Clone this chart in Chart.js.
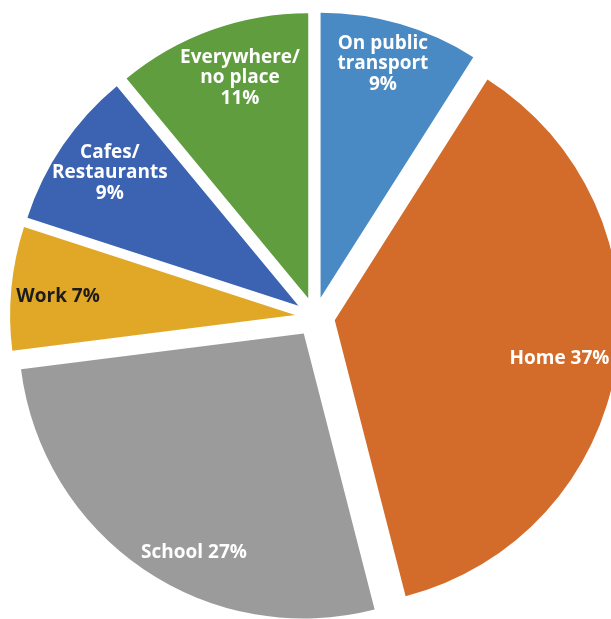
<!DOCTYPE html>
<html>
<head>
<meta charset="utf-8">
<script src="https://cdn.jsdelivr.net/npm/chart.js@4/dist/chart.umd.min.js"></script>
<style>
  html, body { margin: 0; padding: 0; background: #ffffff; }
  #wrap { width: 611px; height: 619px; }
</style>
</head>
<body>
<div id="wrap"><canvas id="pie" width="611" height="619"></canvas></div>
<script>
// Where people are (shares in %), clockwise from 12 o'clock
const categories = ['On public transport', 'Home', 'School', 'Work', 'Cafes/Restaurants', 'Everywhere/no place'];
const shares = [9, 37, 27, 7, 9, 11];
// How each category name is broken into lines inside its slice
const labelLines = [
  ['On public', 'transport'],
  ['Home'],
  ['School'],
  ['Work'],
  ['Cafes/', 'Restaurants'],
  ['Everywhere/', 'no place']
];

const sliceColors = ['#4a8ac4', '#d36c2a', '#9b9b9b', '#e0a826', '#3b63b1', '#5f9d3f'];
const labelColors = ['#ffffff', '#ffffff', '#ffffff', '#1c1c1c', '#ffffff', '#ffffff'];

const EXPLODE = 20;   // px each slice is pulled out from the centre
// Label placement per slice: distance as a fraction of the radius,
// and a small turn (degrees) away from the slice's mid angle
const labelPlacement = [
  { r: 0.85, turn: -1.3 },
  { r: 0.80, turn: 0.8 },
  { r: 0.86, turn: -7.6 },
  { r: 0.834, turn: -1.0 },
  { r: 0.81, turn: 1.0 },
  { r: 0.81, turn: 2.6 }
];

// Draws every slice pulled away from the centre along its mid angle
const explodePlugin = {
  id: 'explode',
  beforeDatasetDraw(chart, args) {
    const ctx = chart.ctx;
    args.meta.data.forEach(arc => {
      const mid = (arc.startAngle + arc.endAngle) / 2;
      ctx.save();
      ctx.translate(Math.cos(mid) * EXPLODE, Math.sin(mid) * EXPLODE);
      arc.draw(ctx);
      ctx.restore();
    });
    return false;
  }
};

// Writes the category name and share inside each slice
const sliceLabelPlugin = {
  id: 'sliceLabels',
  afterDatasetsDraw(chart) {
    const ctx = chart.ctx;
    const meta = chart.getDatasetMeta(0);
    ctx.save();
    ctx.font = 'bold 19px "Open Sans", sans-serif';
    ctx.textAlign = 'center';
    ctx.textBaseline = 'middle';
    meta.data.forEach((arc, i) => {
      const mid = (arc.startAngle + arc.endAngle) / 2;
      const ax = arc.x + Math.cos(mid) * EXPLODE;
      const ay = arc.y + Math.sin(mid) * EXPLODE;
      const place = labelPlacement[i];
      const ang = mid + place.turn * Math.PI / 180;
      const r = arc.outerRadius * place.r;
      const cx = ax + Math.cos(ang) * r;
      const cy = ay + Math.sin(ang) * r;
      const pct = shares[i] + '%';
      const name = labelLines[i];
      const lines = name.length > 1 ? name.concat([pct]) : [name[0] + ' ' + pct];
      const lh = 20.5;
      const top = cy - (lines.length - 1) * lh / 2;
      ctx.fillStyle = labelColors[i];
      lines.forEach((t, k) => ctx.fillText(t, cx, top + k * lh));
    });
    ctx.restore();
  }
};

new Chart(document.getElementById('pie'), {
  type: 'pie',
  data: {
    labels: categories,
    datasets: [{
      data: shares,
      backgroundColor: sliceColors,
      borderWidth: 0,
      radius: 285
    }]
  },
  options: {
    responsive: false,
    animation: false,
    layout: { padding: { left: 19, top: 15, right: 0, bottom: 0 } },
    plugins: {
      legend: { display: false },
      tooltip: { enabled: false }
    }
  },
  plugins: [explodePlugin, sliceLabelPlugin]
});
</script>
</body>
</html>
